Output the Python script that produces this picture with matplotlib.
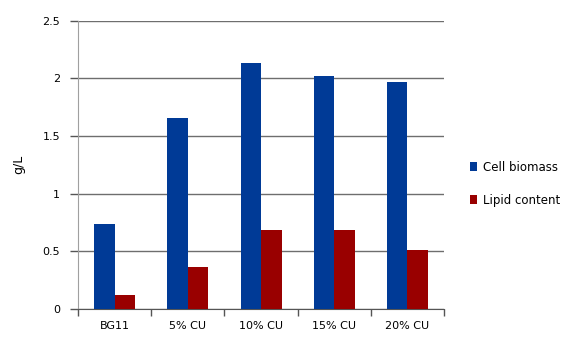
import numpy as np
import matplotlib.pyplot as plt

categories = ["BG11", "5% CU", "10% CU", "15% CU", "20% CU"]
cell_biomass = [0.74, 1.66, 2.13, 2.02, 1.97]
lipid_content = [0.12, 0.36, 0.68, 0.68, 0.51]

blue = "#003a96"
red = "#990000"

fig = plt.figure(figsize=(5.75, 3.42), dpi=100)
ax = fig.add_axes([0.136, 0.097, 0.636, 0.842])

x = np.arange(len(categories)) + 0.5
w = 0.28
ax.bar(x - w / 2, cell_biomass, w, color=blue, label="Cell biomass", zorder=3)
ax.bar(x + w / 2, lipid_content, w, color=red, label="Lipid content", zorder=3)

ax.set_xlim(0, len(categories))
ax.set_ylim(0, 2.5)
ax.set_yticks(np.arange(0, 2.51, 0.5))
ax.set_yticklabels(["0", "0.5", "1", "1.5", "2", "2.5"])
ax.grid(axis="y", color="#6e6e6e", linewidth=1.0, zorder=0)

ax.set_xticks(x)
ax.set_xticklabels(categories)
ax.set_xticks(np.arange(len(categories) + 1), minor=True)
ax.tick_params(axis="x", which="major", length=0, pad=9, labelsize=8)
ax.tick_params(axis="x", which="minor", length=5, color="#555555", width=1)
ax.tick_params(axis="y", length=6, color="#555555", width=1, pad=7, labelsize=8)

for side in ("top", "right"):
    ax.spines[side].set_visible(False)
ax.spines["left"].set_color("#a0a0a0")
ax.spines["bottom"].set_color("#555555")

ax.set_ylabel("g/L", fontsize=9, labelpad=12)

ax.legend(loc="center left", bbox_to_anchor=(1.055, 0.435), frameon=False,
          fontsize=8.5, handlelength=0.6, handleheight=0.7, labelspacing=1.7,
          handletextpad=0.5, borderpad=0)

fig.savefig("out.png", dpi=100)
